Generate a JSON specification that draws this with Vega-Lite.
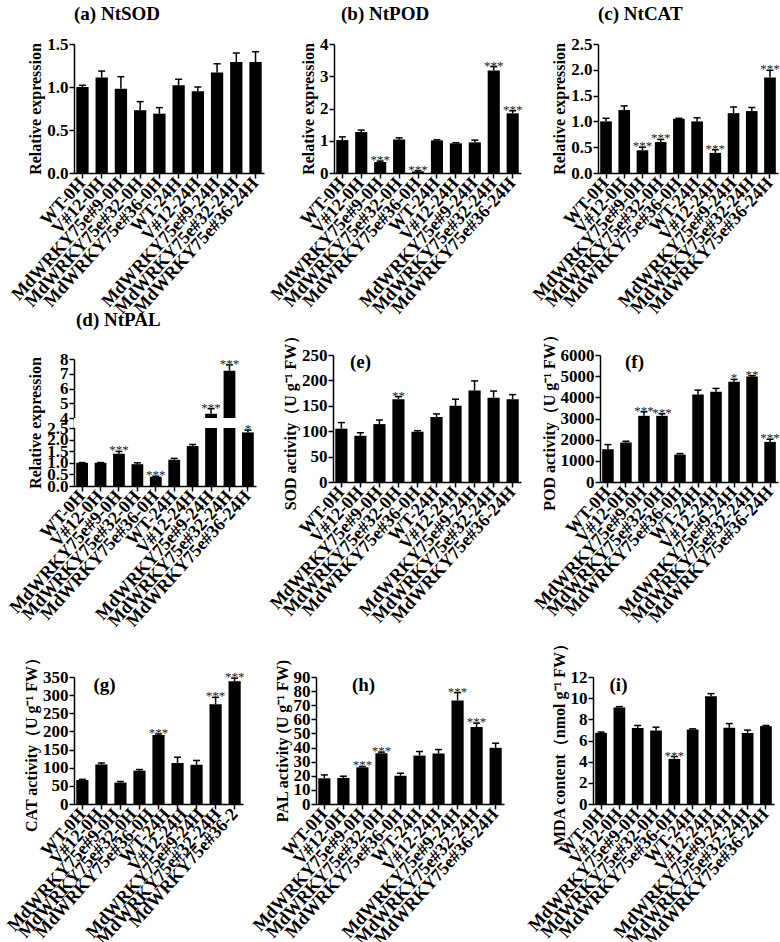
{
"$schema": "https://vega.github.io/schema/vega-lite/v6.json",
"padding": {"left": 3, "top": 5, "right": 0, "bottom": 0},
"background": "white",
"datasets": {
"a": [{"g":"WT-0H","v":1.00,"hi":1.02,"s":""},{"g":"V#12-0H","v":1.11,"hi":1.185,"s":""},{"g":"MdWRKY75e#9-0H","v":0.98,"hi":1.12,"s":""},{"g":"MdWRKY75e#32-0H","v":0.73,"hi":0.83,"s":""},{"g":"MdWRKY75e#36-0H","v":0.69,"hi":0.76,"s":""},{"g":"WT-24H","v":1.02,"hi":1.09,"s":""},{"g":"V#12-24H","v":0.95,"hi":1.0,"s":""},{"g":"MdWRKY75e#9-24H","v":1.17,"hi":1.27,"s":""},{"g":"MdWRKY75e#32-24H","v":1.29,"hi":1.395,"s":""},{"g":"MdWRKY75e#36-24H","v":1.29,"hi":1.41,"s":""}],
"b": [{"g":"WT-0H","v":1.02,"hi":1.12,"s":""},{"g":"V#12-0H","v":1.27,"hi":1.33,"s":""},{"g":"MdWRKY75e#9-0H","v":0.34,"hi":0.37,"s":"***"},{"g":"MdWRKY75e#32-0H","v":1.04,"hi":1.09,"s":""},{"g":"MdWRKY75e#36-0H","v":0.05,"hi":0.07,"s":"***"},{"g":"WT-24H","v":1.01,"hi":1.03,"s":""},{"g":"V#12-24H","v":0.92,"hi":0.94,"s":""},{"g":"MdWRKY75e#9-24H","v":0.95,"hi":1.02,"s":""},{"g":"MdWRKY75e#32-24H","v":3.18,"hi":3.30,"s":"***"},{"g":"MdWRKY75e#36-24H","v":1.85,"hi":1.93,"s":"***"}],
"c": [{"g":"WT-0H","v":1.00,"hi":1.06,"s":""},{"g":"V#12-0H","v":1.22,"hi":1.30,"s":""},{"g":"MdWRKY75e#9-0H","v":0.44,"hi":0.50,"s":"***"},{"g":"MdWRKY75e#32-0H","v":0.60,"hi":0.65,"s":"***"},{"g":"MdWRKY75e#36-0H","v":1.05,"hi":1.06,"s":""},{"g":"WT-24H","v":1.00,"hi":1.07,"s":""},{"g":"V#12-24H","v":0.39,"hi":0.45,"s":"***"},{"g":"MdWRKY75e#9-24H","v":1.16,"hi":1.28,"s":""},{"g":"MdWRKY75e#32-24H","v":1.20,"hi":1.27,"s":""},{"g":"MdWRKY75e#36-24H","v":1.85,"hi":1.99,"s":"***"}],
"d": [{"g":"WT-0H","v":1.00,"hi":1.01,"s":""},{"g":"V#12-0H","v":1.00,"hi":1.01,"s":""},{"g":"MdWRKY75e#9-0H","v":1.39,"hi":1.49,"s":"***"},{"g":"MdWRKY75e#32-0H","v":0.94,"hi":1.0,"s":""},{"g":"MdWRKY75e#36-0H","v":0.40,"hi":0.42,"s":"***"},{"g":"WT-24H","v":1.13,"hi":1.19,"s":""},{"g":"V#12-24H","v":1.72,"hi":1.79,"s":""},{"g":"MdWRKY75e#9-24H","v":4.29,"hi":4.63,"s":"***"},{"g":"MdWRKY75e#32-24H","v":7.21,"hi":7.6,"s":"***"},{"g":"MdWRKY75e#36-24H","v":2.31,"hi":2.41,"s":"*"}],
"e": [{"g":"WT-0H","v":105,"hi":117,"s":""},{"g":"V#12-0H","v":91,"hi":97,"s":""},{"g":"MdWRKY75e#9-0H","v":114,"hi":122,"s":""},{"g":"MdWRKY75e#32-0H","v":163,"hi":168,"s":"**"},{"g":"MdWRKY75e#36-0H","v":99,"hi":101,"s":""},{"g":"WT-24H","v":128,"hi":134,"s":""},{"g":"V#12-24H","v":150,"hi":163,"s":""},{"g":"MdWRKY75e#9-24H","v":180,"hi":199,"s":""},{"g":"MdWRKY75e#32-24H","v":166,"hi":179,"s":""},{"g":"MdWRKY75e#36-24H","v":163,"hi":172,"s":""}],
"f": [{"g":"WT-0H","v":1547,"hi":1768,"s":""},{"g":"V#12-0H","v":1863,"hi":1926,"s":""},{"g":"MdWRKY75e#9-0H","v":3126,"hi":3316,"s":"***"},{"g":"MdWRKY75e#32-0H","v":3126,"hi":3221,"s":"***"},{"g":"MdWRKY75e#36-0H","v":1295,"hi":1342,"s":""},{"g":"WT-24H","v":4137,"hi":4342,"s":""},{"g":"V#12-24H","v":4263,"hi":4421,"s":""},{"g":"MdWRKY75e#9-24H","v":4737,"hi":4847,"s":"*"},{"g":"MdWRKY75e#32-24H","v":4989,"hi":5021,"s":"**"},{"g":"MdWRKY75e#36-24H","v":1895,"hi":2021,"s":"***"}],
"g": [{"g":"WT-0H","v":66,"hi":68,"s":""},{"g":"V#12-0H","v":109,"hi":113,"s":""},{"g":"MdWRKY75e#9-0H","v":59,"hi":62,"s":""},{"g":"MdWRKY75e#32-0H","v":92,"hi":95,"s":""},{"g":"MdWRKY75e#36-0H","v":190,"hi":193,"s":"***"},{"g":"WT-24H","v":113,"hi":129,"s":""},{"g":"V#12-24H","v":108,"hi":120,"s":""},{"g":"MdWRKY75e#9-24H","v":275,"hi":294,"s":"***"},{"g":"MdWRKY75e#32-24H","v":338,"hi":347,"s":"***"}],
"gl": [{"lab":"WT-0H"},{"lab":"V#12-0H"},{"lab":"MdWRKY75e#9-0H"},{"lab":"MdWRKY75e#32-0H"},{"lab":"MdWRKY75e#36-0H"},{"lab":"WT-24H"},{"lab":"V#12-24H"},{"lab":"MdWRKY75e#9-24H"},{"lab":"MdWRKY75e#32-24H"},{"lab":"MdWRKY75e#36-2"}],
"h": [{"g":"WT-0H","v":18.2,"hi":20.6,"s":""},{"g":"V#12-0H","v":18.5,"hi":19.7,"s":""},{"g":"MdWRKY75e#9-0H","v":26,"hi":26.6,"s":"***"},{"g":"MdWRKY75e#32-0H","v":36,"hi":36.8,"s":"***"},{"g":"MdWRKY75e#36-0H","v":20,"hi":21.8,"s":""},{"g":"WT-24H","v":34.3,"hi":37.2,"s":""},{"g":"V#12-24H","v":35.8,"hi":38.6,"s":""},{"g":"MdWRKY75e#9-24H","v":73.4,"hi":78.9,"s":"***"},{"g":"MdWRKY75e#32-24H","v":54.5,"hi":57.3,"s":"***"},{"g":"MdWRKY75e#36-24H","v":39.8,"hi":43.1,"s":""}],
"i": [{"g":"WT-0H","v":6.72,"hi":6.8,"s":""},{"g":"V#12-0H","v":9.12,"hi":9.2,"s":""},{"g":"MdWRKY75e#9-0H","v":7.17,"hi":7.42,"s":""},{"g":"MdWRKY75e#32-0H","v":6.94,"hi":7.26,"s":""},{"g":"MdWRKY75e#36-0H","v":4.26,"hi":4.48,"s":"***"},{"g":"WT-24H","v":7.04,"hi":7.1,"s":""},{"g":"V#12-24H","v":10.18,"hi":10.43,"s":""},{"g":"MdWRKY75e#9-24H","v":7.2,"hi":7.6,"s":""},{"g":"MdWRKY75e#32-24H","v":6.72,"hi":6.98,"s":""},{"g":"MdWRKY75e#36-24H","v":7.36,"hi":7.42,"s":""}]
},
"bounds": "flush",
"spacing": 311,
"vconcat": [
{"hconcat": [
 {"width": 190, "height": 129, "data": {"name": "a"},
  "title": {"text": "(a) NtSOD", "offset": 11},
  "encoding": {"x": {"field": "g", "type": "nominal", "sort": null, "title": null, "scale": {"paddingInner": 0.36, "paddingOuter": 0.12}}},
  "layer": [
   {"mark": {"type": "bar", "color": "black"}, "encoding": {"y": {"field": "v", "type": "quantitative", "scale": {"domain": [0, 1.5], "nice": false}, "axis": {"values": [0, 0.5, 1, 1.5], "format": ".1f", "title": "Relative expression"}}}},
   {"mark": {"type": "rule", "color": "black", "strokeWidth": 1.5}, "encoding": {"y": {"field": "v", "type": "quantitative"}, "y2": {"field": "hi"}}},
   {"mark": {"type": "tick", "color": "black", "thickness": 1.5, "size": 7, "opacity": 1}, "encoding": {"y": {"field": "hi", "type": "quantitative"}}},
   {"mark": {"type": "text", "fontSize": 13, "color": "#222", "fontWeight": "normal", "baseline": "alphabetic", "dy": 3}, "encoding": {"y": {"field": "hi", "type": "quantitative"}, "text": {"field": "s"}}}
  ]},
 {"bounds": "flush", "spacing": 77, "hconcat": [
 {"width": 187, "height": 129, "data": {"name": "b"},
  "title": {"text": "(b) NtPOD", "offset": 11, "dx": 7},
  "encoding": {"x": {"field": "g", "type": "nominal", "sort": null, "title": null, "scale": {"paddingInner": 0.36, "paddingOuter": 0.12}}},
  "layer": [
   {"mark": {"type": "bar", "color": "black"}, "encoding": {"y": {"field": "v", "type": "quantitative", "scale": {"domain": [0, 4], "nice": false}, "axis": {"values": [0, 1, 2, 3, 4], "format": "d", "title": "Relative expression"}}}},
   {"mark": {"type": "rule", "color": "black", "strokeWidth": 1.5}, "encoding": {"y": {"field": "v", "type": "quantitative"}, "y2": {"field": "hi"}}},
   {"mark": {"type": "tick", "color": "black", "thickness": 1.5, "size": 7, "opacity": 1}, "encoding": {"y": {"field": "hi", "type": "quantitative"}}},
   {"mark": {"type": "text", "fontSize": 13, "color": "#222", "fontWeight": "normal", "baseline": "alphabetic", "dy": 3}, "encoding": {"y": {"field": "hi", "type": "quantitative"}, "text": {"field": "s"}}}
  ]},
 {"width": 180, "height": 129, "data": {"name": "c"},
  "title": {"text": "(c) NtCAT", "offset": 11},
  "encoding": {"x": {"field": "g", "type": "nominal", "sort": null, "title": null, "scale": {"paddingInner": 0.36, "paddingOuter": 0.12}}},
  "layer": [
   {"mark": {"type": "bar", "color": "black"}, "encoding": {"y": {"field": "v", "type": "quantitative", "scale": {"domain": [0, 2.5], "nice": false}, "axis": {"values": [0, 0.5, 1, 1.5, 2, 2.5], "format": ".1f", "title": "Relative expression"}}}},
   {"mark": {"type": "rule", "color": "black", "strokeWidth": 1.5}, "encoding": {"y": {"field": "v", "type": "quantitative"}, "y2": {"field": "hi"}}},
   {"mark": {"type": "tick", "color": "black", "thickness": 1.5, "size": 7, "opacity": 1}, "encoding": {"y": {"field": "hi", "type": "quantitative"}}},
   {"mark": {"type": "text", "fontSize": 13, "color": "#222", "fontWeight": "normal", "baseline": "alphabetic", "dy": 3}, "encoding": {"y": {"field": "hi", "type": "quantitative"}, "text": {"field": "s"}}}
  ]}
 ]}
], "bounds": "flush", "spacing": 70},
{"bounds": "flush", "spacing": 322, "vconcat": [
{"hconcat": [
 {"width": 182, "height": 131,
  "title": {"text": "(d) NtPAL", "offset": 20, "dx": 2},
  "layer": [
   {"data": {"name": "d"},
    "encoding": {"x": {"field": "g", "type": "nominal", "sort": null, "title": null, "scale": {"paddingInner": 0.36, "paddingOuter": 0.12}}},
    "layer": [
     {"mark": {"type": "bar", "color": "black"}, "encoding": {"y": {"field": "v", "type": "quantitative", "scale": {"domain": [0, 2.5, 4, 8], "range": [131, 73, 63, 4], "nice": false, "zero": false}, "axis": {"values": [0, 0.5, 1, 1.5, 2, 2.5, 4, 5, 6, 7, 8], "labelExpr": "datum.value >= 4 ? format(datum.value, 'd') : format(datum.value, '.1f')", "title": "Relative expression"}}}},
     {"mark": {"type": "rule", "color": "black", "strokeWidth": 1.5}, "encoding": {"y": {"field": "v", "type": "quantitative"}, "y2": {"field": "hi"}}},
     {"mark": {"type": "tick", "color": "black", "thickness": 1.5, "size": 7, "opacity": 1}, "encoding": {"y": {"field": "hi", "type": "quantitative"}}}
    ]},
   {"data": {"values": [{"lo": 2.5, "up": 4}]}, "mark": {"type": "rect", "color": "white"}, "encoding": {"y": {"field": "lo", "type": "quantitative"}, "y2": {"field": "up"}}},
   {"data": {"name": "d"}, "mark": {"type": "text", "fontSize": 13, "color": "#222", "fontWeight": "normal", "baseline": "alphabetic", "dy": 3},
    "encoding": {"x": {"field": "g", "type": "nominal", "sort": null, "title": null}, "y": {"field": "hi", "type": "quantitative"}, "text": {"field": "s"}}}
  ]},
 {"bounds": "flush", "spacing": 79, "hconcat": [
 {"width": 188, "height": 127, "data": {"name": "e"},
  "encoding": {"x": {"field": "g", "type": "nominal", "sort": null, "scale": {"paddingInner": 0.36, "paddingOuter": 0.12}, "axis": {"title": "(e)", "titleX": 27, "titleY": -115, "titleAngle": 0, "titleAlign": "center", "titleBaseline": "alphabetic", "titleFontSize": 19}}},
  "layer": [
   {"mark": {"type": "bar", "color": "black"}, "encoding": {"y": {"field": "v", "type": "quantitative", "scale": {"domain": [0, 250], "nice": false}, "axis": {"values": [0, 50, 100, 150, 200, 250], "title": "SOD activity（U g⁻¹ FW）"}}}},
   {"mark": {"type": "rule", "color": "black", "strokeWidth": 1.5}, "encoding": {"y": {"field": "v", "type": "quantitative"}, "y2": {"field": "hi"}}},
   {"mark": {"type": "tick", "color": "black", "thickness": 1.5, "size": 7, "opacity": 1}, "encoding": {"y": {"field": "hi", "type": "quantitative"}}},
   {"mark": {"type": "text", "fontSize": 13, "color": "#222", "fontWeight": "normal", "baseline": "alphabetic", "dy": 3}, "encoding": {"y": {"field": "hi", "type": "quantitative"}, "text": {"field": "s"}}}
  ]},
 {"width": 178, "height": 127, "data": {"name": "f"},
  "encoding": {"x": {"field": "g", "type": "nominal", "sort": null, "scale": {"paddingInner": 0.36, "paddingOuter": 0.12}, "axis": {"title": "(f)", "titleX": 34, "titleY": -115, "titleAngle": 0, "titleAlign": "center", "titleBaseline": "alphabetic", "titleFontSize": 19}}},
  "layer": [
   {"mark": {"type": "bar", "color": "black"}, "encoding": {"y": {"field": "v", "type": "quantitative", "scale": {"domain": [0, 6000], "nice": false}, "axis": {"values": [0, 1000, 2000, 3000, 4000, 5000, 6000], "format": "d", "title": "POD activity（U g⁻¹ FW）"}}}},
   {"mark": {"type": "rule", "color": "black", "strokeWidth": 1.5}, "encoding": {"y": {"field": "v", "type": "quantitative"}, "y2": {"field": "hi"}}},
   {"mark": {"type": "tick", "color": "black", "thickness": 1.5, "size": 7, "opacity": 1}, "encoding": {"y": {"field": "hi", "type": "quantitative"}}},
   {"mark": {"type": "text", "fontSize": 13, "color": "#222", "fontWeight": "normal", "baseline": "alphabetic", "dy": 3}, "encoding": {"y": {"field": "hi", "type": "quantitative"}, "text": {"field": "s"}}}
  ]}
 ]}
], "bounds": "flush", "spacing": 77},
{"hconcat": [
 {"width": 169, "height": 127,
  "layer": [
   {"data": {"name": "g"},
    "encoding": {"x": {"field": "g", "type": "nominal", "sort": null, "title": null, "scale": {"paddingInner": 0.36, "paddingOuter": 0.12}, "axis": {"orient": "bottom", "labels": false}}},
    "layer": [
     {"mark": {"type": "bar", "color": "black"}, "encoding": {"y": {"field": "v", "type": "quantitative", "scale": {"domain": [0, 350], "nice": false}, "axis": {"values": [0, 50, 100, 150, 200, 250, 300, 350], "title": "CAT activity（U g⁻¹ FW）"}}}},
     {"mark": {"type": "rule", "color": "black", "strokeWidth": 1.5}, "encoding": {"y": {"field": "v", "type": "quantitative"}, "y2": {"field": "hi"}}},
     {"mark": {"type": "tick", "color": "black", "thickness": 1.5, "size": 7, "opacity": 1}, "encoding": {"y": {"field": "hi", "type": "quantitative"}}},
     {"mark": {"type": "text", "fontSize": 13, "color": "#222", "fontWeight": "normal", "baseline": "alphabetic", "dy": 3}, "encoding": {"y": {"field": "hi", "type": "quantitative"}, "text": {"field": "s"}}}
    ]},
   {"data": {"name": "gl"}, "mark": {"type": "point", "opacity": 0},
    "encoding": {"x": {"field": "lab", "type": "nominal", "sort": null, "scale": {"paddingInner": 0.36, "paddingOuter": 0.12}, "axis": {"orient": "bottom", "ticks": false, "domain": false, "tickSize": 0, "labelPadding": 7, "title": "(g)", "titleX": 30, "titleY": -114, "titleAngle": 0, "titleAlign": "center", "titleBaseline": "alphabetic", "titleFontSize": 19}}}}
  ],
  "resolve": {"scale": {"x": "independent"}, "axis": {"x": "independent"}}},
 {"bounds": "flush", "spacing": 89, "hconcat": [
 {"width": 188, "height": 127, "data": {"name": "h"},
  "encoding": {"x": {"field": "g", "type": "nominal", "sort": null, "scale": {"paddingInner": 0.36, "paddingOuter": 0.12}, "axis": {"title": "(h)", "titleX": 47, "titleY": -114, "titleAngle": 0, "titleAlign": "center", "titleBaseline": "alphabetic", "titleFontSize": 19}}},
  "layer": [
   {"mark": {"type": "bar", "color": "black"}, "encoding": {"y": {"field": "v", "type": "quantitative", "scale": {"domain": [0, 90], "nice": false}, "axis": {"values": [0, 10, 20, 30, 40, 50, 60, 70, 80, 90], "title": "PAL activity (U g⁻¹ FW)"}}}},
   {"mark": {"type": "rule", "color": "black", "strokeWidth": 1.5}, "encoding": {"y": {"field": "v", "type": "quantitative"}, "y2": {"field": "hi"}}},
   {"mark": {"type": "tick", "color": "black", "thickness": 1.5, "size": 7, "opacity": 1}, "encoding": {"y": {"field": "hi", "type": "quantitative"}}},
   {"mark": {"type": "text", "fontSize": 13, "color": "#222", "fontWeight": "normal", "baseline": "alphabetic", "dy": 3}, "encoding": {"y": {"field": "hi", "type": "quantitative"}, "text": {"field": "s"}}}
  ]},
 {"width": 181, "height": 127, "data": {"name": "i"},
  "encoding": {"x": {"field": "g", "type": "nominal", "sort": null, "scale": {"paddingInner": 0.36, "paddingOuter": 0.12}, "axis": {"title": "(i)", "titleX": 25, "titleY": -114, "titleAngle": 0, "titleAlign": "center", "titleBaseline": "alphabetic", "titleFontSize": 19}}},
  "layer": [
   {"mark": {"type": "bar", "color": "black"}, "encoding": {"y": {"field": "v", "type": "quantitative", "scale": {"domain": [0, 12], "nice": false}, "axis": {"values": [0, 2, 4, 6, 8, 10, 12], "format": "d", "title": "MDA content（nmol g⁻¹ FW）"}}}},
   {"mark": {"type": "rule", "color": "black", "strokeWidth": 1.5}, "encoding": {"y": {"field": "v", "type": "quantitative"}, "y2": {"field": "hi"}}},
   {"mark": {"type": "tick", "color": "black", "thickness": 1.5, "size": 7, "opacity": 1}, "encoding": {"y": {"field": "hi", "type": "quantitative"}}},
   {"mark": {"type": "text", "fontSize": 13, "color": "#222", "fontWeight": "normal", "baseline": "alphabetic", "dy": 3}, "encoding": {"y": {"field": "hi", "type": "quantitative"}, "text": {"field": "s"}}}
  ]}
 ]}
], "bounds": "flush", "spacing": 73}
]}
],
"config": {
 "font": "Liberation Serif",
 "view": {"stroke": null},
 "axis": {"labelFont": "Liberation Serif", "titleFont": "Liberation Serif", "labelFontWeight": "bold", "titleFontWeight": "bold", "labelColor": "black", "titleColor": "black", "domainColor": "black", "tickColor": "black", "domainWidth": 1.5, "tickWidth": 1.5, "grid": false, "tickSize": 5},
 "axisY": {"labelFontSize": 17, "titleFontSize": 16, "labelPadding": 1, "titlePadding": 3, "labelOverlap": false, "tickCount": 40},
 "axisX": {"labelFontSize": 18, "labelAngle": -48, "labelPadding": 2, "labelOverlap": false},
 "title": {"font": "Liberation Serif", "fontWeight": "bold", "fontSize": 19, "color": "black", "anchor": "start", "frame": "group"},
 "text": {"font": "Liberation Serif"}
}
}
